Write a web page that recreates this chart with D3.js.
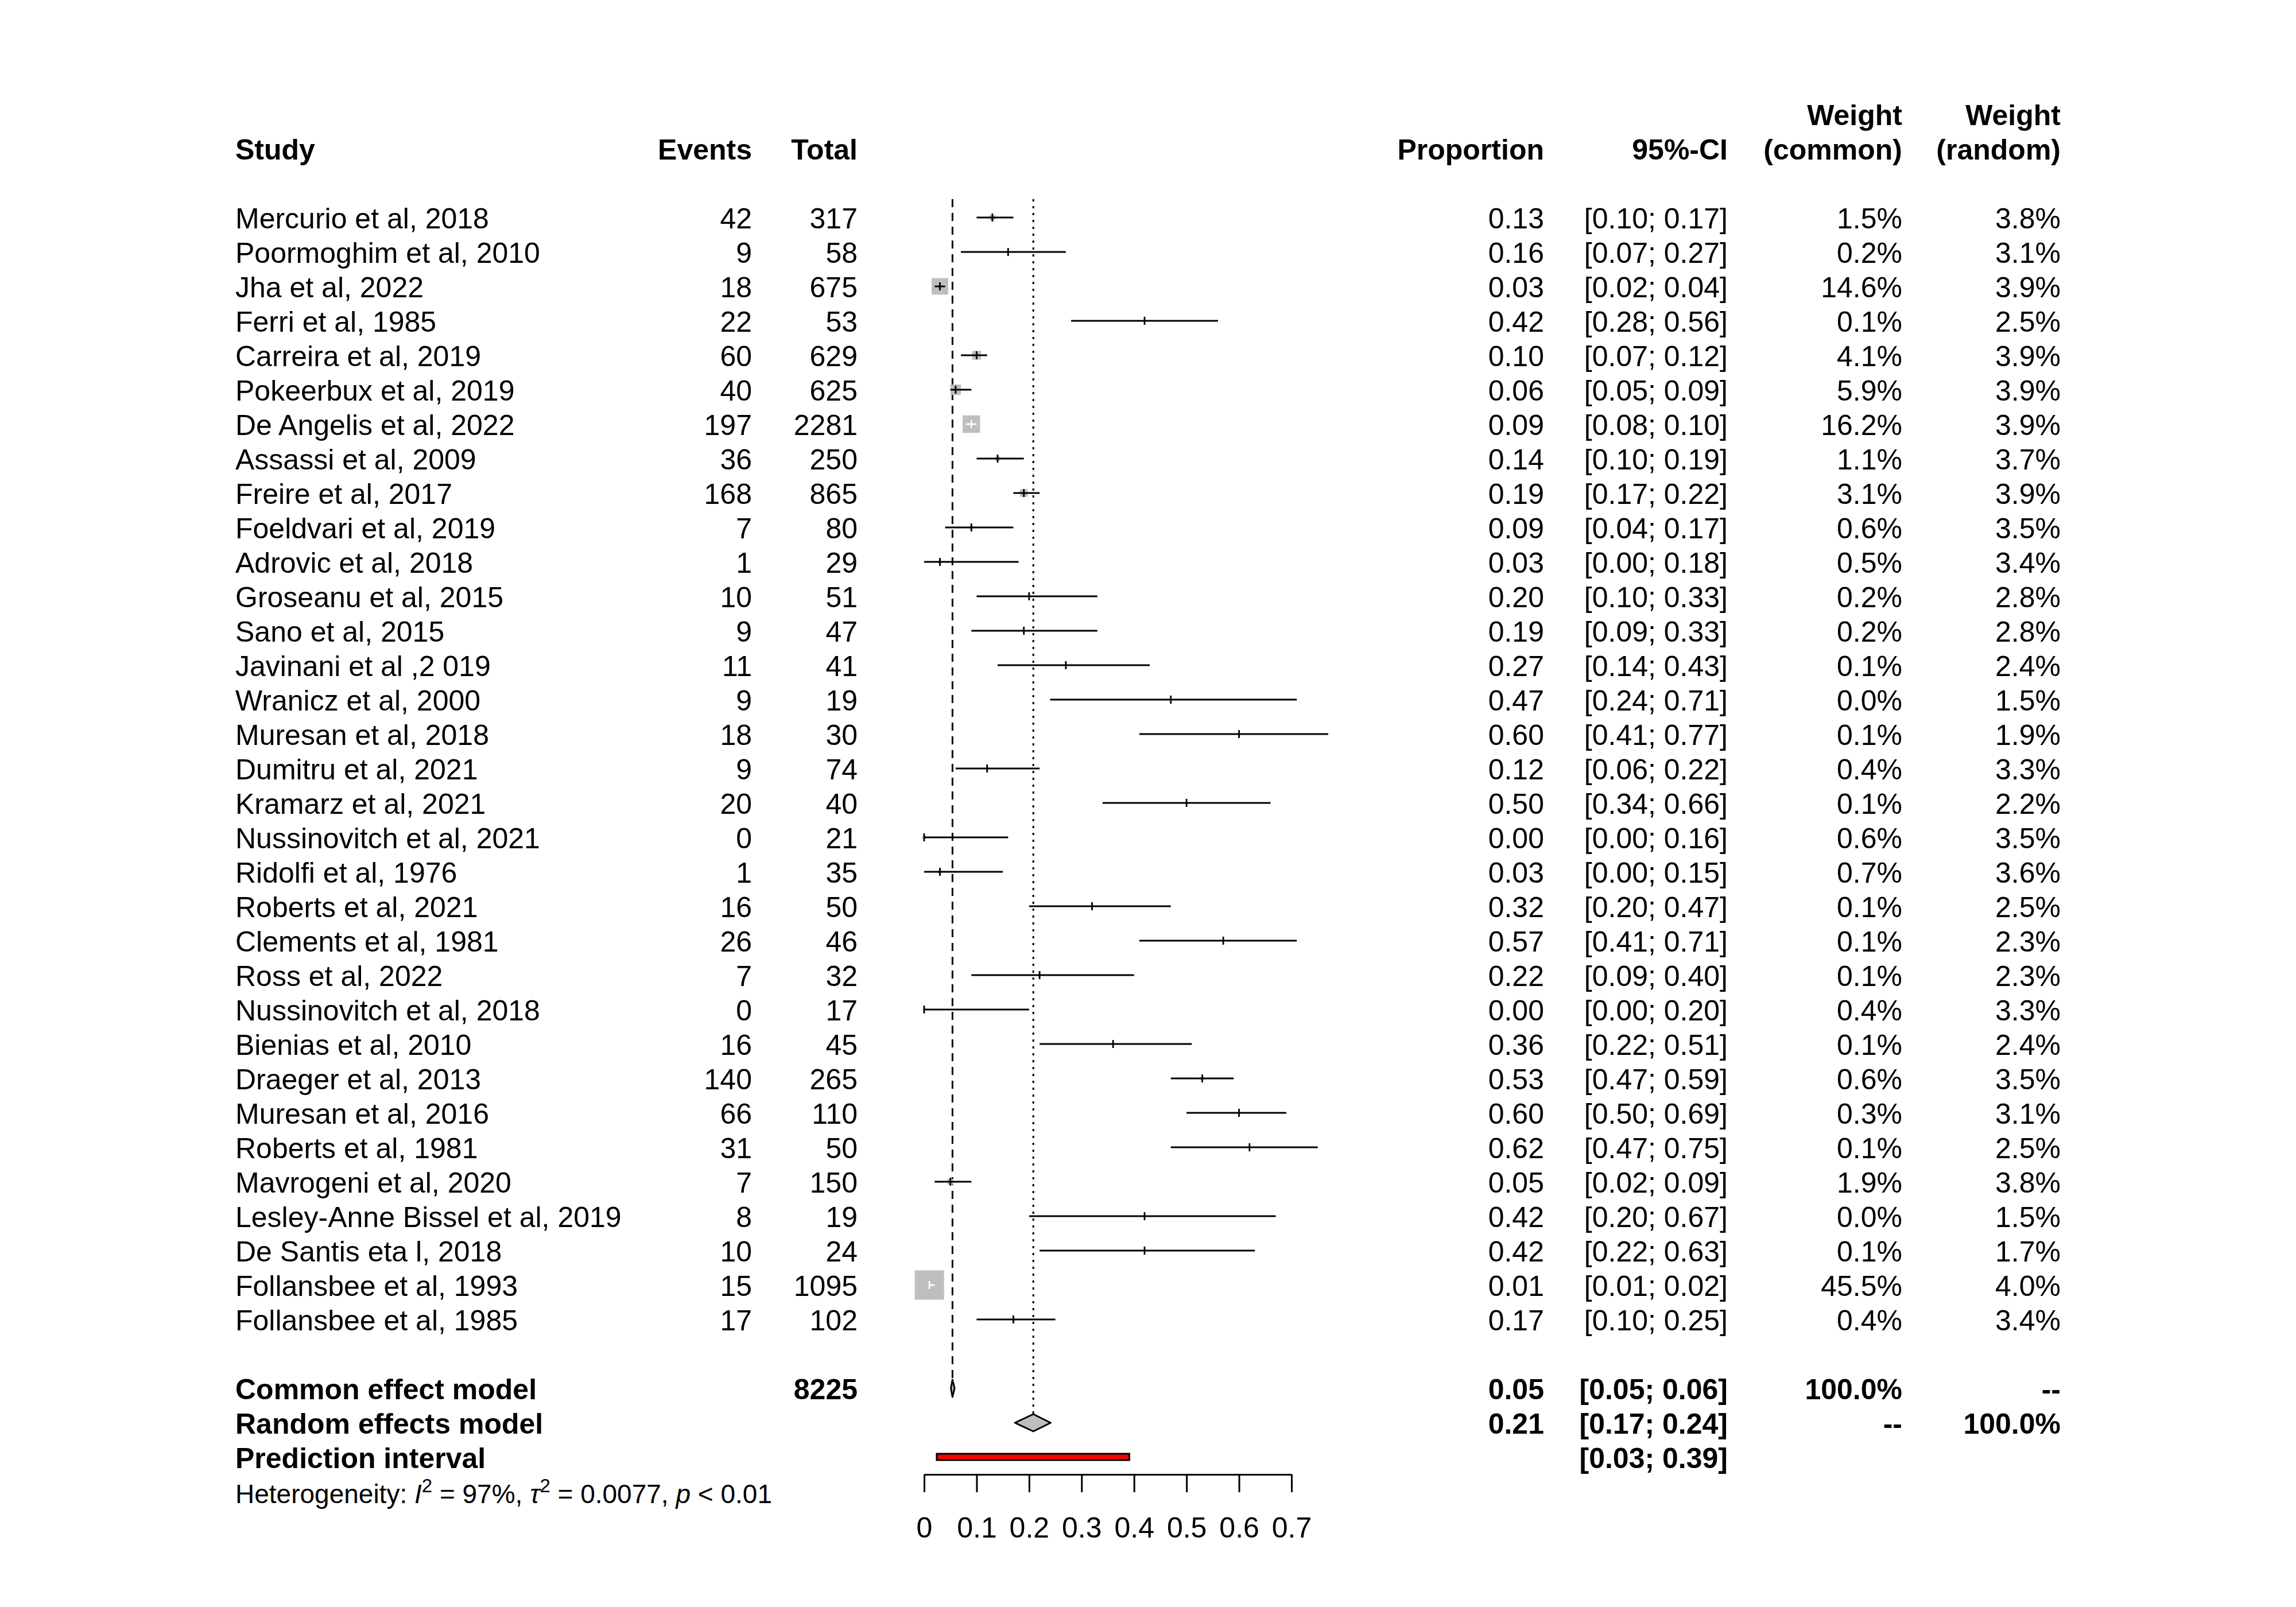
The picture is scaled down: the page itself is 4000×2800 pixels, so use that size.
<!DOCTYPE html>
<html>
<head>
<meta charset="utf-8">
<script src="https://cdn.jsdelivr.net/npm/d3@7"></script>
<style>
  body { margin: 0; background: #fff; }
  text { font-family: "Liberation Sans", Arial, Helvetica, sans-serif; fill: #000; }
</style>
</head>
<body>
<div id="chart"></div>
<script>
// study table
var studies = ["Mercurio et al, 2018", "Poormoghim et al, 2010", "Jha et al, 2022", "Ferri et al, 1985",
  "Carreira et al, 2019", "Pokeerbux et al, 2019", "De Angelis et al, 2022", "Assassi et al, 2009",
  "Freire et al, 2017", "Foeldvari et al, 2019", "Adrovic et al, 2018", "Groseanu et al, 2015",
  "Sano et al, 2015", "Javinani et al ,2 019", "Wranicz et al, 2000", "Muresan et al, 2018",
  "Dumitru et al, 2021", "Kramarz et al, 2021", "Nussinovitch et al, 2021", "Ridolfi et al, 1976",
  "Roberts et al, 2021", "Clements et al, 1981", "Ross et al, 2022", "Nussinovitch et al, 2018",
  "Bienias et al, 2010", "Draeger et al, 2013", "Muresan et al, 2016", "Roberts et al, 1981",
  "Mavrogeni et al, 2020", "Lesley-Anne Bissel et al, 2019", "De Santis eta l, 2018",
  "Follansbee et al, 1993", "Follansbee et al, 1985"];
var events = [42, 9, 18, 22, 60, 40, 197, 36, 168, 7, 1, 10, 9, 11, 9, 18, 9, 20, 0, 1, 16, 26, 7, 0, 16, 140, 66, 31, 7, 8, 10, 15, 17];
var totals = [317, 58, 675, 53, 629, 625, 2281, 250, 865, 80, 29, 51, 47, 41, 19, 30, 74, 40, 21, 35, 50, 46, 32, 17, 45, 265, 110, 50, 150, 19, 24, 1095, 102];
var props = [0.13, 0.16, 0.03, 0.42, 0.10, 0.06, 0.09, 0.14, 0.19, 0.09, 0.03, 0.20, 0.19, 0.27, 0.47, 0.60, 0.12, 0.50, 0.00, 0.03, 0.32, 0.57, 0.22, 0.00, 0.36, 0.53, 0.60, 0.62, 0.05, 0.42, 0.42, 0.01, 0.17];
var lower = [0.10, 0.07, 0.02, 0.28, 0.07, 0.05, 0.08, 0.10, 0.17, 0.04, 0.00, 0.10, 0.09, 0.14, 0.24, 0.41, 0.06, 0.34, 0.00, 0.00, 0.20, 0.41, 0.09, 0.00, 0.22, 0.47, 0.50, 0.47, 0.02, 0.20, 0.22, 0.01, 0.10];
var upper = [0.17, 0.27, 0.04, 0.56, 0.12, 0.09, 0.10, 0.19, 0.22, 0.17, 0.18, 0.33, 0.33, 0.43, 0.71, 0.77, 0.22, 0.66, 0.16, 0.15, 0.47, 0.71, 0.40, 0.20, 0.51, 0.59, 0.69, 0.75, 0.09, 0.67, 0.63, 0.02, 0.25];
var wCommon = [1.5, 0.2, 14.6, 0.1, 4.1, 5.9, 16.2, 1.1, 3.1, 0.6, 0.5, 0.2, 0.2, 0.1, 0.0, 0.1, 0.4, 0.1, 0.6, 0.7, 0.1, 0.1, 0.1, 0.4, 0.1, 0.6, 0.3, 0.1, 1.9, 0.0, 0.1, 45.5, 0.4];
var wRandom = [3.8, 3.1, 3.9, 2.5, 3.9, 3.9, 3.9, 3.7, 3.9, 3.5, 3.4, 2.8, 2.8, 2.4, 1.5, 1.9, 3.3, 2.2, 3.5, 3.6, 2.5, 2.3, 2.3, 3.3, 2.4, 3.5, 3.1, 2.5, 3.8, 1.5, 1.7, 4.0, 3.4];

// pooled results
var summaryLabels = ["Common effect model", "Random effects model"];
var summaryEst = [0.054, 0.208];
var summaryLow = [0.051, 0.173];
var summaryUpp = [0.058, 0.241];
var summaryProp = ["0.05", "0.21"];
var summaryCI = ["[0.05; 0.06]", "[0.17; 0.24]"];
var summaryWc = ["100.0%", "--"];
var summaryWr = ["--", "100.0%"];
var totalN = 8225;
var predInterval = [0.024, 0.391];
var predLabel = "[0.03; 0.39]";
var axisTicks = [0, 0.1, 0.2, 0.3, 0.4, 0.5, 0.6, 0.7];

var W = 4000, H = 2800, FS = 50;

var svg = d3.select("#chart").append("svg")
  .attr("width", W).attr("height", H)
  .attr("viewBox", "0 0 " + W + " " + H);
svg.append("rect").attr("width", W).attr("height", H).attr("fill", "#fff");

var x = d3.scaleLinear().domain([0, 0.7]).range([1610, 2250]);
// row index -> vertical centre of row
var y = d3.scaleLinear().domain([0, 1]).range([379, 439]);
var side = d3.scaleSqrt().domain([0, 45.5]).range([0, 51]);

function fmt2(v) { return v.toFixed(2); }
function ci(i) { return "[" + fmt2(lower[i]) + "; " + fmt2(upper[i]) + "]"; }

var colStudy = 410, colEvents = 1310, colTotal = 1494, colProp = 2690,
    colCI = 3010, colWc = 3314, colWr = 3590;

function txt(g, xp, row, s, anchor, bold) {
  return g.append("text")
    .attr("x", xp).attr("y", y(row) + 19)
    .attr("text-anchor", anchor)
    .attr("font-size", FS)
    .attr("font-weight", bold ? "bold" : "normal")
    .text(s);
}

// header
var head = svg.append("g");
txt(head, colStudy, -2, "Study", "start", true);
txt(head, colEvents, -2, "Events", "end", true);
txt(head, colTotal, -2, "Total", "end", true);
txt(head, colProp, -2, "Proportion", "end", true);
txt(head, colCI, -2, "95%-CI", "end", true);
txt(head, colWc, -3, "Weight", "end", true);
txt(head, colWc, -2, "(common)", "end", true);
txt(head, colWr, -3, "Weight", "end", true);
txt(head, colWr, -2, "(random)", "end", true);

// reference lines for pooled estimates
svg.append("line")
  .attr("x1", x(summaryEst[0])).attr("x2", x(summaryEst[0]))
  .attr("y1", 347).attr("y2", y(34) - 15)
  .attr("stroke", "#000").attr("stroke-width", 3).attr("stroke-dasharray", "14,10");
svg.append("line")
  .attr("x1", x(summaryEst[1])).attr("x2", x(summaryEst[1]))
  .attr("y1", 347).attr("y2", y(35) - 15)
  .attr("stroke", "#000").attr("stroke-width", 3).attr("stroke-dasharray", "4,8");

// study rows
var rows = svg.append("g").selectAll("g").data(studies).join("g");
rows.each(function(name, i) {
  var g = d3.select(this);
  txt(g, colStudy, i, name, "start", false);
  txt(g, colEvents, i, events[i], "end", false);
  txt(g, colTotal, i, totals[i], "end", false);
  txt(g, colProp, i, fmt2(props[i]), "end", false);
  txt(g, colCI, i, ci(i), "end", false);
  txt(g, colWc, i, wCommon[i].toFixed(1) + "%", "end", false);
  txt(g, colWr, i, wRandom[i].toFixed(1) + "%", "end", false);

  var cy = y(i), s = side(wCommon[i]);
  var inside = wCommon[i] > 15;
  var col = inside ? "#fff" : "#000";
  if (s > 0) {
    g.append("rect")
      .attr("x", x(props[i]) - s / 2).attr("y", cy - s / 2)
      .attr("width", s).attr("height", s)
      .attr("fill", "#bebebe");
  }
  g.append("line")
    .attr("x1", x(lower[i])).attr("x2", x(upper[i]))
    .attr("y1", cy).attr("y2", cy)
    .attr("stroke", col).attr("stroke-width", 2.8);
  g.append("line")
    .attr("x1", x(props[i])).attr("x2", x(props[i]))
    .attr("y1", cy - 7).attr("y2", cy + 7)
    .attr("stroke", col).attr("stroke-width", 2.8);
});

// pooled rows
summaryLabels.forEach(function(lab, k) {
  var r = 34 + k, g = svg.append("g");
  txt(g, colStudy, r, lab, "start", true);
  if (k === 0) txt(g, colTotal, r, totalN, "end", true);
  txt(g, colProp, r, summaryProp[k], "end", true);
  txt(g, colCI, r, summaryCI[k], "end", true);
  txt(g, colWc, r, summaryWc[k], "end", true);
  txt(g, colWr, r, summaryWr[k], "end", true);
  var cy = y(r), h = 15;
  var pts = [[x(summaryLow[k]), cy], [x(summaryEst[k]), cy - h],
             [x(summaryUpp[k]), cy], [x(summaryEst[k]), cy + h]];
  g.append("polygon")
    .attr("points", pts.map(function(p) { return p.join(","); }).join(" "))
    .attr("fill", "#bebebe").attr("stroke", "#000").attr("stroke-width", 3)
    .attr("stroke-linejoin", "round");
});

// prediction interval
var pg = svg.append("g");
txt(pg, colStudy, 36, "Prediction interval", "start", true);
txt(pg, colCI, 36, predLabel, "end", true);
pg.append("rect")
  .attr("x", x(predInterval[0])).attr("y", y(36) - 6)
  .attr("width", x(predInterval[1]) - x(predInterval[0])).attr("height", 11)
  .attr("fill", "#ff0000").attr("stroke", "#000").attr("stroke-width", 3);

// heterogeneity
var het = svg.append("text")
  .attr("x", colStudy).attr("y", y(37) + 20)
  .attr("font-size", 46);
het.append("tspan").text("Heterogeneity: ");
het.append("tspan").attr("font-style", "italic").text("I");
het.append("tspan").attr("font-size", 33).attr("dy", -19).text("2");
het.append("tspan").attr("dy", 19).text(" = 97%, ");
het.append("tspan").attr("font-style", "italic").text("\u03c4");
het.append("tspan").attr("font-size", 33).attr("dy", -19).text("2");
het.append("tspan").attr("dy", 19).text(" = 0.0077, ");
het.append("tspan").attr("font-style", "italic").text("p");
het.append("tspan").text(" < 0.01");

// x axis
var axis = d3.axisBottom(x)
  .tickValues(axisTicks)
  .tickFormat(function(d) { return d === 0 ? "0" : d3.format(".1f")(d); })
  .tickSizeInner(31).tickSizeOuter(0).tickPadding(43);
var ag = svg.append("g").attr("transform", "translate(0,2569)").call(axis);
ag.select(".domain").attr("stroke-width", 3);
ag.selectAll(".tick line").attr("stroke-width", 3);
ag.selectAll(".tick text").attr("font-size", FS).attr("font-family", "Liberation Sans, Arial, sans-serif");
</script>
</body>
</html>
